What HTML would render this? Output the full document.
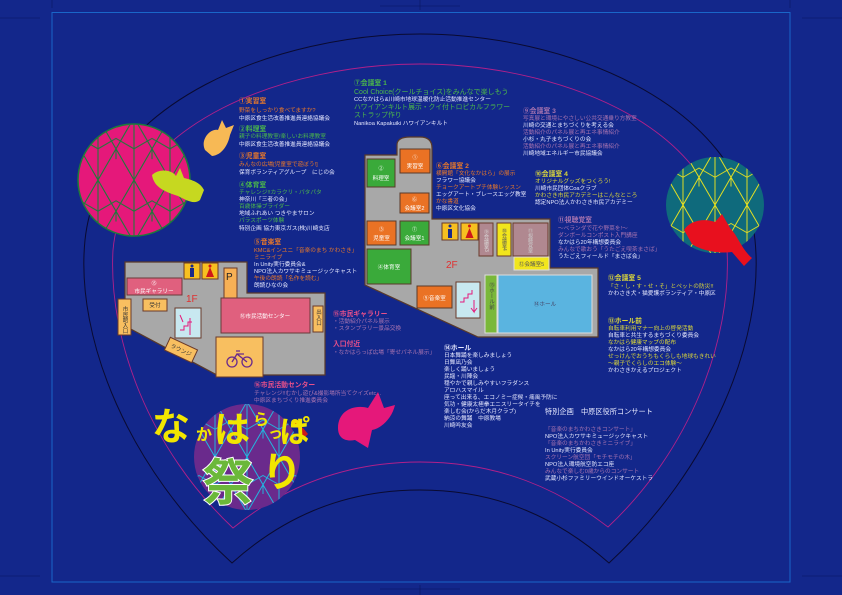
<!DOCTYPE html>
<html><head><meta charset="utf-8"><style>
html,body{margin:0;padding:0;background:#13278b;}
svg{display:block;}
text{font-family:"Liberation Sans","Noto Sans CJK JP",sans-serif;}
.t{font-size:5.7px;}
.h{font-size:6.8px;font-weight:bold;}
.w{fill:#e6e8ff}.o{fill:#e8782a}.g{fill:#4cb84a}.m{fill:#a874b0}.y{fill:#dcd83a}.p{fill:#e8508a}
.lb{font-size:5.6px;fill:#fff;text-anchor:middle;}
</style></head><body>
<svg width="842" height="595" viewBox="0 0 842 595" xmlns="http://www.w3.org/2000/svg">
<defs>
<pattern id="asaG" width="20" height="34.64" patternUnits="userSpaceOnUse" patternTransform="translate(134,180) scale(1.8)"><path d="M0,0 L0,34.64 M20,0 L20,34.64 M0,0 L20,34.64 M20,0 L0,34.64 M0,17.32 L10,11.55 L20,17.32 M10,17.32 L10,23.1" stroke="#1d7a3a" stroke-width="0.6" fill="none"/></pattern>
<pattern id="asaY" width="20" height="34.64" patternUnits="userSpaceOnUse" patternTransform="translate(715,205) scale(1.6)"><path d="M0,0 L0,34.64 M20,0 L20,34.64 M0,0 L20,34.64 M20,0 L0,34.64 M0,17.32 L10,11.55 L20,17.32 M10,17.32 L10,23.1" stroke="#e6e020" stroke-width="0.6" fill="none"/></pattern>
<pattern id="asaC" width="20" height="34.64" patternUnits="userSpaceOnUse" patternTransform="translate(247,457) scale(1.6)"><path d="M0,0 L0,34.64 M20,0 L20,34.64 M0,0 L20,34.64 M20,0 L0,34.64 M0,17.32 L10,11.55 L20,17.32 M10,17.32 L10,23.1" stroke="#20b8e0" stroke-width="0.6" fill="none"/></pattern>
</defs>
<rect width="842" height="595" fill="#13278b"/>
<g stroke="#0a1660" stroke-width="0.6">
<line x1="52" y1="0" x2="52" y2="8"/><line x1="790" y1="0" x2="790" y2="8"/>
<line x1="0" y1="18" x2="40" y2="18"/><line x1="802" y1="18" x2="842" y2="18"/>
<line x1="0" y1="576" x2="40" y2="576"/><line x1="802" y1="576" x2="842" y2="576"/>
<line x1="380" y1="6" x2="460" y2="6"/><line x1="420" y1="0" x2="420" y2="10"/>
<line x1="380" y1="589" x2="460" y2="589"/><line x1="420" y1="585" x2="420" y2="595"/>
</g>
<rect x="52" y="12.5" width="738" height="569.5" fill="none" stroke="#1a66c8" stroke-width="1"/>
<path d="M232,563 C130,470 75,340 85,240 C100,100 280,34 420,34 C560,34 740,100 755,240 C765,340 710,470 609,563 C560,520 500,490 420,490 C340,490 280,520 232,563 Z" fill="none" stroke="#0a0a30" stroke-width="1"/>
<path d="M233,528 C150,450 108,340 113,250 C125,120 290,64 420,64 C550,64 715,120 727,250 C732,340 690,450 608,527 C560,490 500,462 420,462 C340,462 280,490 233,528 Z" fill="none" stroke="#b0208a" stroke-width="0.9"/>
<circle cx="134" cy="180" r="56" fill="#e5187a"/>
<circle cx="134" cy="180" r="56" fill="url(#asaG)"/>
<circle cx="134" cy="180" r="56" fill="none" stroke="#1d7a3a" stroke-width="1.5"/>
<ellipse cx="715" cy="205" rx="49" ry="48" fill="#0f6a7c"/>
<ellipse cx="715" cy="205" rx="49" ry="48" fill="url(#asaY)"/>
<circle cx="247" cy="457" r="53" fill="#6a2a8c"/>
<circle cx="247" cy="457" r="53" fill="url(#asaC)"/>
<path d="M205,150 C200,140 210,128 218,130 L222,120 L226,128 L234,125 L230,135 C228,145 222,155 212,156 Z" fill="#f7b955"/>
<path d="M152,175 C160,168 172,170 176,176 L180,168 L184,178 C192,180 200,182 204,190 L200,200 C194,205 186,200 178,196 C166,192 154,188 152,175 Z" fill="#c6d820"/>
<path d="M684,230 C690,220 705,218 715,222 L722,214 L730,228 C738,236 742,250 752,258 L744,266 L732,252 C718,254 700,250 692,244 Z" fill="#e8101e"/>
<path d="M338,428 C338,410 355,404 368,408 L378,392 L384,408 L395,405 C392,418 382,428 372,430 L368,448 L355,440 C345,442 338,438 338,428 Z" fill="#e5187a"/>
<circle cx="295" cy="423" r="4" fill="#f2e000"/>
<path d="M295,423 L303,428 L308,434 L304,438 L300,432 Z" fill="#d01818"/>
<text x="152" y="440" style="font-size:38px;font-weight:bold;fill:#f2e600">な</text>
<text x="196" y="440" style="font-size:16px;font-weight:bold;fill:#f2e600">か</text>
<text x="214" y="442" style="font-size:36px;font-weight:bold;fill:#f2e600">は</text>
<text x="253" y="425" style="font-size:16px;font-weight:bold;fill:#f2e600">ら</text>
<text x="268" y="438" style="font-size:15px;font-weight:bold;fill:#f2e600">っ</text>
<text x="280" y="442" style="font-size:30px;font-weight:bold;fill:#f2e600">ぱ</text>
<text x="203" y="500" style="font-size:50px;font-weight:bold;fill:#6bb83a;stroke:#fff;stroke-width:2;paint-order:stroke">祭</text>
<text x="262" y="486" style="font-size:40px;font-weight:bold;fill:#f2e600">り</text>

<polygon points="125,262 247,262 247,293 325,293 325,375 217,375 125,326" fill="#a8a8a8" stroke="#5a3a2a" stroke-width="1.2"/>
<rect x="127" y="278" width="55" height="17" fill="#e0607e" stroke="#6a3a3a"/>
<text class="lb" x="154" y="285" style="font-size:5px">⑮</text><text class="lb" x="154" y="293">市民ギャラリー</text>
<rect x="184" y="263" width="16" height="16" fill="#f7c020" stroke="#6a3a2a"/><rect x="190" y="268" width="4" height="9" fill="#1a2a8a"/><circle cx="192" cy="266" r="1.5" fill="#1a2a8a"/>
<rect x="202" y="263" width="16" height="16" fill="#f7c020" stroke="#6a3a2a"/><polygon points="210,267 206,277 214,277" fill="#d01818"/><circle cx="210" cy="266" r="1.5" fill="#d01818"/>
<rect x="224" y="268" width="13" height="32" fill="#f7b055" stroke="#6a3a2a"/><text x="226" y="280" style="font-size:10px;fill:#222">P</text>
<rect x="143" y="299" width="24" height="12" fill="#f8bf60" stroke="#6a3a2a"/><text class="lb" x="155" y="307" style="fill:#333">受付</text>
<rect x="118" y="299" width="13" height="36" fill="#f8bf60" stroke="#6a3a2a"/>
<text x="124.5" y="306" style="font-size:5.5px;fill:#333;writing-mode:tb">市民館入口</text>
<rect x="175" y="308" width="26" height="30" fill="#c8e8f0" stroke="#6a3a2a"/>
<path d="M180,330 L184,330 L184,326 L188,326 L188,322 L192,322 M180,315 L183,322 M190,335 L190,318" stroke="#e5187a" fill="none" stroke-width="1"/>
<rect x="221" y="298" width="89" height="35" fill="#e0607e" stroke="#6a3a3a"/><text class="lb" x="265" y="318">⑯市民活動センター</text>
<rect x="313" y="306" width="10" height="26" fill="#f8bf60" stroke="#6a3a2a"/>
<text x="318" y="309" style="font-size:5.5px;fill:#333;writing-mode:tb">出入口</text>
<g transform="translate(181,350) rotate(25)"><rect x="-15" y="-7" width="30" height="14" fill="#f8bf60" stroke="#6a3a2a"/><text class="lb" x="0" y="2" style="fill:#333">ラウンジ</text></g>
<rect x="216" y="337" width="47" height="40" fill="#f8bf60" stroke="#6a3a2a"/>
<g stroke="#6a2a8c" fill="none" stroke-width="1.3"><circle cx="232" cy="362" r="5"/><circle cx="247" cy="362" r="5"/><path d="M232,362 L237,354 L247,362 M236,351 L240,351 M237,354 L244,354"/></g>
<text x="186" y="302" style="font-size:10px;fill:#e03030">1F</text>

<path d="M365,155 L397,155 L397,145 Q397,137 410,137 L420,137 Q432,137 432,148 L432,219 L550,219 L550,268 L598,268 L598,337 L478,337 L365,285 Z" fill="#a8a8a8" stroke="#5a3a2a" stroke-width="1.2"/>
<rect x="367" y="159" width="28" height="28" fill="#3aaa3a" stroke="#5a3a2a"/><text class="lb" x="381" y="170" style="font-size:5px">②</text><text class="lb" x="381" y="180">料理室</text>
<rect x="400" y="149" width="30" height="24" fill="#ea7224" stroke="#5a3a2a"/><text class="lb" x="415" y="159" style="font-size:5px">①</text><text class="lb" x="415" y="168">実習室</text>
<rect x="400" y="193" width="29" height="20" fill="#ea7224" stroke="#5a3a2a"/><text class="lb" x="414.5" y="201" style="font-size:5px">⑥</text><text class="lb" x="414.5" y="210">会議室2</text>
<rect x="367" y="221" width="29" height="24" fill="#ea7224" stroke="#5a3a2a"/><text class="lb" x="381.5" y="231" style="font-size:5px">③</text><text class="lb" x="381.5" y="240">児童室</text>
<rect x="400" y="221" width="29" height="24" fill="#3aaa3a" stroke="#5a3a2a"/><text class="lb" x="414.5" y="231" style="font-size:5px">⑦</text><text class="lb" x="414.5" y="240">会議室1</text>
<rect x="367" y="249" width="44" height="35" fill="#3aaa3a" stroke="#5a3a2a"/><text class="lb" x="389" y="269">④体育室</text>
<rect x="442" y="223" width="16" height="17" fill="#f7c020" stroke="#6a3a2a"/><rect x="448" y="229" width="4" height="9" fill="#1a2a8a"/><circle cx="450" cy="226" r="1.5" fill="#1a2a8a"/>
<rect x="461" y="223" width="17" height="17" fill="#f7c020" stroke="#6a3a2a"/><polygon points="469.5,228 465.5,238 473.5,238" fill="#d01818"/><circle cx="469.5" cy="226" r="1.5" fill="#d01818"/>
<rect x="479" y="223" width="14" height="33" fill="#b08890" stroke="#6a3a2a"/><text x="486" y="229" style="font-size:5px;fill:#ddd;writing-mode:tb">⑨会議室3</text>
<rect x="497" y="223" width="14" height="33" fill="#f2e61c" stroke="#6a3a2a"/><text x="504" y="228" style="font-size:5px;fill:#555;writing-mode:tb">⑩会議室4</text>
<rect x="513" y="223" width="35" height="33" fill="#b08890" stroke="#6a3a2a"/><text x="530" y="228" style="font-size:5px;fill:#ccc;writing-mode:tb">⑪視聴覚室</text>
<rect x="514" y="257" width="35" height="13" fill="#f2e61c" stroke="#ddd"/><text class="lb" x="531.5" y="266" style="fill:#555">⑫会議室5</text>
<rect x="417" y="286" width="35" height="22" fill="#ea7224" stroke="#5a3a2a"/><text class="lb" x="434.5" y="300">⑤音楽室</text>
<rect x="456" y="282" width="24" height="36" fill="#c8e8f0" stroke="#6a3a2a"/>
<path d="M460,302 L464,302 L464,298 L468,298 L468,294 L472,294 L472,290 M474,300 L474,312 L471,308 M474,312 L477,308" stroke="#e5187a" fill="none" stroke-width="1"/>
<rect x="485" y="275" width="12" height="58" fill="#7ab83a" stroke="#ddd"/><text x="491" y="282" style="font-size:5.5px;fill:#444;writing-mode:tb">⑬ホール前</text>
<rect x="498" y="275" width="94" height="58" fill="#5ab4e0" stroke="#ddd"/><text class="lb" x="545" y="306" style="fill:#446">⑭ホール</text>
<text x="446" y="268" style="font-size:10px;fill:#e03030">2F</text>

<text class="h o" x="239" y="103">①実習室</text>
<text class="t o" x="239" y="112">野菜をしっかり食べてますか?</text>
<text class="t w" x="239" y="120">中原区食生活改善推進員連絡協議会</text>
<text class="h g" x="239" y="131">②料理室</text>
<text class="t g" x="239" y="138">親子の料理教室/楽しいお料理教室</text>
<text class="t w" x="239" y="146">中原区食生活改善推進員連絡協議会</text>
<text class="h o" x="239" y="158">③児童室</text>
<text class="t o" x="239" y="166">みんなの広場[児童室で遊ぼう!]</text>
<text class="t w" x="239" y="174">保育ボランティアグループ　にじの会</text>
<text class="h g" x="239" y="187">④体育室</text>
<text class="t g" x="239" y="194">チャレンジ!!カラクリ・パタパタ</text>
<text class="t w" x="239" y="201">神奈川「三者の会」</text>
<text class="t g" x="239" y="208">百歳体操ブライダー</text>
<text class="t w" x="239" y="215">地域ふれあい つきやまサロン</text>
<text class="t g" x="239" y="222">パラスポーツ体験</text>
<text class="t w" x="239" y="230">特別企画 協力東京ガス(株)川崎支店</text>
<text class="h o" x="254" y="244">⑤音楽室</text>
<text class="t o" x="254" y="252">KMC&amp;インユニ「音楽のまち かわさき」</text>
<text class="t o" x="254" y="259">ミニライブ</text>
<text class="t w" x="254" y="266">In Unity実行委員会&amp;</text>
<text class="t w" x="254" y="273">NPO法人カワサキミュージックキャスト</text>
<text class="t o" x="254" y="280">午後の朗読「名作を読む」</text>
<text class="t w" x="254" y="287">朗読ひなの会</text>

<text class="h g" x="354" y="85">⑦会議室 1</text>
<text class="g" x="354" y="94" style="font-size:7px">Cool Choice(クールチョイス)をみんなで楽しもう</text>
<text class="t w" x="354" y="101">CCなかはら&amp;川崎市地球温暖化防止活動推進センター</text>
<text class="g" x="354" y="109" style="font-size:6.8px">ハワイアンキルト展示・クイ付トロピカルフラワー</text>
<text class="g" x="354" y="117" style="font-size:6.8px">ストラップ作り</text>
<text class="t w" x="354" y="125">Nanikoa Kapakuiki ハワイアンキルト</text>

<text class="h o" x="436" y="168">⑥会議室 2</text>
<text class="t o" x="436" y="175">横開館「文化なかはら」の展示</text>
<text class="t w" x="436" y="182">フラワー協議会</text>
<text class="t o" x="436" y="189">チョークアートプチ体験レッスン</text>
<text class="t w" x="436" y="196">エッグアート・ブレースエッグ教室</text>
<text class="t o" x="436" y="203">かな書道</text>
<text class="t w" x="436" y="210">中原区文化協会</text>

<text class="h m" x="523" y="113">⑨会議室 3</text>
<text class="t m" x="523" y="120">写真展と環境にやさしい公共交通乗り方教室</text>
<text class="t w" x="523" y="127">川崎の交通とまちづくりを考える会</text>
<text class="t m" x="523" y="134">活動紹介のパネル展と再エネ事情紹介</text>
<text class="t w" x="523" y="141">小杉・丸子まちづくりの会</text>
<text class="t m" x="523" y="148">活動紹介のパネル展と再エネ事情紹介</text>
<text class="t w" x="523" y="155">川崎地域エネルギー市民協議会</text>

<text class="h y" x="535" y="176">⑩会議室 4</text>
<text class="t y" x="535" y="183">オリジナルグッズをつくろう!</text>
<text class="t w" x="535" y="190">川崎市民団体Coaクラブ</text>
<text class="t y" x="535" y="197">かわさき市民アカデミーはこんなところ</text>
<text class="t w" x="535" y="204">認定NPO法人かわさき市民アカデミー</text>

<text class="h m" x="558" y="222">⑪視聴覚室</text>
<text class="t m" x="558" y="230">～ベランダで花や野菜を!～</text>
<text class="t m" x="558" y="237">ダンボールコンポスト入門講座</text>
<text class="t w" x="558" y="244">なかはら20年構想委員会</text>
<text class="t m" x="558" y="251">みんなで歌おう「うたごえ喫茶まさば」</text>
<text class="t w" x="558" y="258">うたごえフィールド「まさば会」</text>

<text class="h y" x="608" y="280">⑫会議室 5</text>
<text class="t y" x="608" y="288">「さ・し・す・せ・そ」とペットの防災!!</text>
<text class="t w" x="608" y="295">かわさき犬・猫愛護ボランティア・中原区</text>

<text class="h y" x="608" y="323">⑬ホール前</text>
<text class="t y" x="608" y="330">自転車利用マナー向上の啓発活動</text>
<text class="t w" x="608" y="337">自転車と共生するまちづくり委員会</text>
<text class="t y" x="608" y="344">なかはら健康マップの配布</text>
<text class="t w" x="608" y="351">なかはら20年構想委員会</text>
<text class="t y" x="608" y="358">せっけんでおうちもくらしも地球もきれい</text>
<text class="t y" x="608" y="365">～親子でくらしのエコ体験～</text>
<text class="t w" x="608" y="372">かわさきかえるプロジェクト</text>

<text class="h p" x="333" y="316">⑮市民ギャラリー</text>
<text class="t m" x="333" y="323">・活動紹介パネル展示</text>
<text class="t m" x="333" y="330">・スタンプラリー景品交換</text>
<text class="h p" x="333" y="346">入口付近</text>
<text class="t m" x="333" y="354">・なかはらっぱ広場「寄せパネル展示」</text>
<text class="h p" x="254" y="387">⑯市民活動センター</text>
<text class="t m" x="254" y="395">チャレンジ!!むかし遊び&amp;撮影場所当てクイズetc...</text>
<text class="t m" x="254" y="402">中原区まちづくり推進委員会</text>

<text class="h w" x="444" y="350">⑭ホール</text>
<text class="t w" x="444" y="357">日本舞踊を楽しみましょう</text>
<text class="t w" x="444" y="364">日舞凪乃会</text>
<text class="t w" x="444" y="371">楽しく踊いましょう</text>
<text class="t w" x="444" y="378">民謡・川陣会</text>
<text class="t w" x="444" y="385">穏やかで親しみやすいフラダンス</text>
<text class="t w" x="444" y="392">アロハスマイル</text>
<text class="t w" x="444" y="399">座って出来る、エコノミー症候・痛風予防に</text>
<text class="t w" x="444" y="406">気功・健康太極拳エニスリータイチを</text>
<text class="t w" x="444" y="413">楽しむ会(からだ木月クラブ)</text>
<text class="t w" x="444" y="420">納涼の舞踊　中原教場</text>
<text class="t w" x="444" y="427">川崎吟友会</text>

<text class="w" x="545" y="414" style="font-size:7.2px">特別企画　中原区役所コンサート</text>
<text class="t m" x="545" y="431">「音楽のまちかわさきコンサート」</text>
<text class="t w" x="545" y="438">NPO法人カワサキミュージックキャスト</text>
<text class="t m" x="545" y="445">「音楽のまちかわさきミニライブ」</text>
<text class="t w" x="545" y="452">In Unity実行委員会</text>
<text class="t m" x="545" y="459">スクリーン航空団「モチモチの木」</text>
<text class="t w" x="545" y="466">NPO法人環境航空防エコ座</text>
<text class="t m" x="545" y="473">みんなで楽しむ0歳からのコンサート</text>
<text class="t w" x="545" y="480">武蔵小杉ファミリーウインドオーケストラ</text>
</svg>
</body></html>
